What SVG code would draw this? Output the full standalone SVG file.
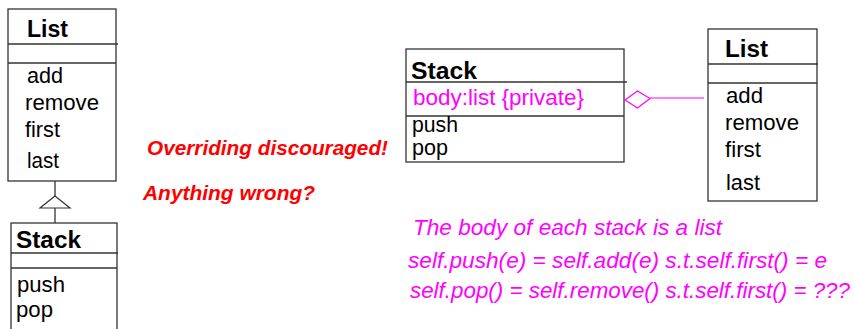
<svg xmlns="http://www.w3.org/2000/svg" width="854" height="329" viewBox="0 0 854 329">
<style>
.box{fill:#fff;stroke:#333;stroke-width:1.3}
.ln{stroke:#333;stroke-width:1.3;fill:none}
.t{font-family:"Liberation Sans",Arial,sans-serif;font-size:21.5px;fill:#000}
.b{font-weight:bold;font-size:23px}
.mg{fill:#ff00ff}
.it{font-style:italic;font-size:22.5px}
.red{font-family:"Liberation Sans",Arial,sans-serif;font-size:20px;font-weight:bold;font-style:italic;fill:#ff0000}
.conn{stroke:#ff00ff;stroke-width:1.2;fill:#fff}
</style>
<rect width="854" height="329" fill="#fff"/>
<g id="list-left">
<rect class="box" x="8" y="9" width="108" height="172"/>
<line class="ln" x1="8" y1="44" x2="118" y2="44"/>
<line class="ln" x1="8" y1="63" x2="116" y2="63"/>
<text class="t b" x="27" y="37" textLength="41" lengthAdjust="spacingAndGlyphs">List</text>
<text class="t" x="27" y="83" textLength="36" lengthAdjust="spacingAndGlyphs">add</text>
<text class="t" x="25" y="110" textLength="74" lengthAdjust="spacingAndGlyphs">remove</text>
<text class="t" x="25" y="137" textLength="35" lengthAdjust="spacingAndGlyphs">first</text>
<text class="t" x="27" y="168" textLength="32" lengthAdjust="spacingAndGlyphs">last</text>
</g>
<g id="stack-left">
<rect class="box" x="11" y="223" width="106" height="120"/>
<line class="ln" x1="11" y1="253" x2="118" y2="253"/>
<line class="ln" x1="11" y1="268" x2="117" y2="268"/>
<text class="t b" x="16" y="248" textLength="65" lengthAdjust="spacingAndGlyphs">Stack</text>
<text class="t" x="17" y="292" textLength="48" lengthAdjust="spacingAndGlyphs">push</text>
<text class="t" x="16" y="317" textLength="37" lengthAdjust="spacingAndGlyphs">pop</text>
</g>
<g id="stack-mid">
<rect class="box" x="406" y="49" width="218" height="113"/>
<line class="ln" x1="406" y1="82" x2="627" y2="82"/>
<line class="ln" x1="406" y1="116" x2="624" y2="116"/>
<text class="t b" x="411" y="79" textLength="66" lengthAdjust="spacingAndGlyphs">Stack</text>
<text class="t mg" x="413" y="105" textLength="171" lengthAdjust="spacingAndGlyphs">body:list {private}</text>
<text class="t" x="412" y="132" textLength="46" lengthAdjust="spacingAndGlyphs">push</text>
<text class="t" x="412" y="155" textLength="36" lengthAdjust="spacingAndGlyphs">pop</text>
</g>
<g id="list-right">
<rect class="box" x="708" y="29" width="109" height="172"/>
<line class="ln" x1="708" y1="64" x2="818" y2="64"/>
<line class="ln" x1="708" y1="83" x2="817" y2="83"/>
<text class="t b" x="725" y="57" textLength="43" lengthAdjust="spacingAndGlyphs">List</text>
<text class="t" x="726" y="103" textLength="37" lengthAdjust="spacingAndGlyphs">add</text>
<text class="t" x="725" y="130" textLength="74" lengthAdjust="spacingAndGlyphs">remove</text>
<text class="t" x="725" y="157" textLength="36" lengthAdjust="spacingAndGlyphs">first</text>
<text class="t" x="726" y="190" textLength="34" lengthAdjust="spacingAndGlyphs">last</text>
</g>
<g id="connectors">
<line class="ln" x1="55" y1="181" x2="55" y2="196"/>
<polygon points="55,196 40,208 70,208" fill="#fff" stroke="#333" stroke-width="1.2"/>
<line class="ln" x1="55" y1="208" x2="55" y2="223"/>
<line x1="650" y1="98" x2="704" y2="98" stroke="#ff00ff" stroke-width="1.2"/>
<polygon class="conn" points="625,100 637.5,91 650,98.5 637.5,108"/>
</g>
<g id="notes">
<text class="red" x="147" y="155" textLength="241" lengthAdjust="spacingAndGlyphs">Overriding discouraged!</text>
<text class="red" x="143" y="200" textLength="172" lengthAdjust="spacingAndGlyphs">Anything wrong?</text>
<text class="t mg it" x="413" y="235" textLength="309" lengthAdjust="spacingAndGlyphs">The body of each stack is a list</text>
<text class="t mg it" x="408" y="268" textLength="419" lengthAdjust="spacingAndGlyphs">self.push(e) = self.add(e) s.t.self.first() = e</text>
<text class="t mg it" x="410" y="298" textLength="440" lengthAdjust="spacingAndGlyphs">self.pop() = self.remove() s.t.self.first() = ???</text>
</g>
</svg>
